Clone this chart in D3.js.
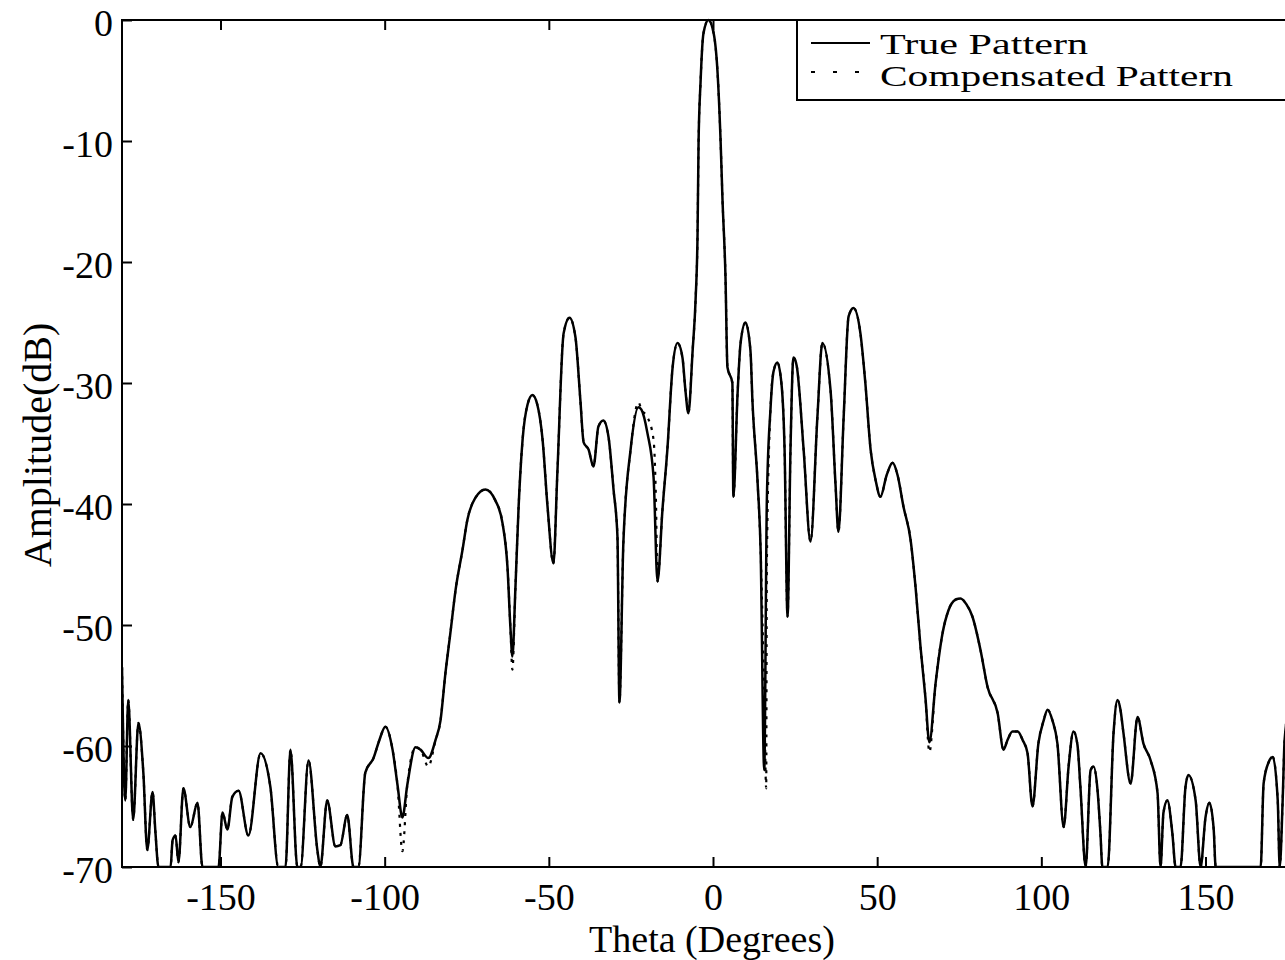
<!DOCTYPE html>
<html>
<head>
<meta charset="utf-8">
<script src="https://cdn.jsdelivr.net/npm/d3@7"></script>
<style>
  html, body { margin: 0; padding: 0; background: #fff; }
  #chart { width: 1285px; height: 960px; overflow: hidden; }
  text { font-family: "Liberation Serif", "Times New Roman", serif; fill: #000; }
</style>
</head>
<body>
<div id="chart"></div>
<script>
// Angle (degrees) of each traced point of the patterns
const theta = [
  -180, -179.0, -178.1, -176.6, -175.0, -173.5, -172.3, -170.7, -169.8, -168.9,
  -165.2, -164.6, -163.7, -162.8, -161.3, -159.2, -157.0, -155.5, -150.6, -149.4,
  -147.9, -146.4, -144.5, -141.5, -137.8, -134.8, -132.4, -130.2, -128.7, -126.6,
  -125.6, -123.2, -120.5, -119.6, -117.5, -115.0, -113.5, -111.4, -109.5, -108.0,
  -105.9, -103.4, -101.6, -99.8, -97.6, -96.1, -94.6, -93.1, -90.6, -89.1,
  -86.7, -84.5, -83.0, -81.5, -80.0, -78.4, -76.3, -74.8, -72.4, -69.3,
  -66.3, -64.1, -62.6, -61.7, -61.1, -60.2, -59.2, -58.0, -56.5, -55.0,
  -53.5, -51.9, -50.4, -48.6, -47.4, -45.5, -43.7, -41.9, -40.4, -39.4,
  -37.9, -36.4, -34.9, -33.4, -31.8, -30.3, -29.1, -28.5, -27.3, -25.1,
  -22.7, -21.8, -20.0, -18.1, -16.9, -15.4, -13.9, -12.3, -10.8, -9.3,
  -8.4, -7.5, -6.2, -5.3, -4.7, -4.4, -3.8, -2.9, -1.4, 0.2,
  1.4, 2.3, 2.9, 3.8, 4.4, 5.9, 6.2, 7.5, 8.4, 9.9,
  11.4, 12.0, 13.6, 14.5, 15.6, 16.4, 17.5, 18.4, 19.6, 20.9,
  21.8, 22.7, 23.6, 24.5, 25.5, 27.6, 29.7, 31.8, 33.3, 35.8,
  37.3, 38.2, 39.8, 41.3, 42.8, 44.9, 46.4, 48.0, 49.5, 51.0,
  52.9, 54.7, 56.2, 58.0, 60.2, 61.7, 63.2, 64.7, 65.9, 67.8,
  69.9, 71.7, 73.9, 75.4, 77.2, 79.0, 81.5, 83.6, 86.7, 88.5,
  89.7, 91.2, 92.8, 94.3, 95.8, 97.3, 99.1, 100.7, 101.9, 103.4,
  104.9, 106.8, 108.3, 109.8, 111.0, 111.9, 113.5, 115.0, 115.9, 117.1,
  118.0, 118.6, 120.2, 122.0, 123.2, 124.1, 125.0, 127.2, 129.3, 131.1,
  133.3, 135.4, 136.3, 137.2, 138.4, 139.9, 140.9, 142.4, 143.9, 144.8,
  147.0, 148.5, 150.0, 151.2, 152.5, 153.1, 166.8, 167.7, 169.3, 170.5,
  172.0, 172.6, 173.5, 174.1, 175.9, 178.0, 180
];

// True pattern amplitude (dB) at each angle above
const trueDb = [
  -53.5, -64.5, -56.2, -66.1, -58.1, -62.2, -68.6, -63.8, -67.2, -70,
  -70, -67.8, -67.4, -69.6, -63.5, -66.7, -64.7, -70, -70, -65.5,
  -66.9, -64.2, -63.7, -67.4, -60.6, -63.4, -70, -70, -60.3, -70,
  -70, -61.2, -68.6, -70, -64.5, -68.3, -68.2, -65.7, -70, -70,
  -62.2, -61.0, -59.5, -58.4, -60.3, -63.2, -65.9, -63.2, -60.1, -60.3,
  -61.0, -59.5, -57.9, -54.0, -50.7, -47.1, -43.8, -41.3, -39.5, -38.8,
  -39.7, -41.6, -45.2, -50.2, -52.6, -47.1, -40.2, -34.7, -31.8, -31.0,
  -31.8, -34.7, -40.2, -44.9, -37.4, -25.9, -24.6, -26.2, -31.4, -34.9,
  -35.5, -36.9, -33.6, -33.1, -34.5, -38.8, -42.7, -56.4, -43.2, -35.5,
  -32.0, -32.2, -34.1, -37.8, -46.4, -40.5, -35.5, -28.7, -26.7, -27.9,
  -30.6, -32.5, -27.3, -23.1, -17.6, -10.2, -5.2, -1.1, 0, -1.1,
  -4.4, -9.9, -14.9, -21.2, -28.7, -30.0, -39.4, -30.8, -26.7, -25.0,
  -27.3, -31.4, -38.3, -43.8, -62.0, -39.7, -32.2, -29.1, -28.3, -30.2,
  -35.5, -49.3, -35.5, -27.9, -28.6, -35.5, -43.1, -32.8, -26.7, -30.6,
  -38.3, -42.3, -32.8, -24.5, -23.8, -25.9, -30.0, -35.5, -38.0, -39.4,
  -37.6, -36.6, -37.6, -40.2, -43.0, -46.9, -51.8, -56.0, -59.7, -54.8,
  -50.7, -48.8, -47.9, -47.8, -48.3, -49.3, -52.1, -55.1, -57.3, -60.3,
  -59.5, -58.8, -58.8, -59.5, -60.6, -65.0, -59.8, -57.9, -57.0, -57.9,
  -59.8, -66.7, -61.7, -58.8, -59.9, -63.4, -70, -62.0, -61.7, -63.6,
  -67.2, -70, -70, -58.9, -56.2, -57.0, -58.9, -63.1, -57.6, -59.8,
  -61.2, -63.9, -70, -65.5, -64.5, -67.2, -70, -70, -63.4, -62.4,
  -64.5, -70, -65.9, -64.7, -66.9, -70, -70, -63.1, -61.3, -60.9,
  -64.5, -70, -64.5, -59.5, -56.2, -55.0, -53.5
];

// Where the compensated pattern departs from the true one: [angle, dB]
const compDiff = [
  [-94.6, -68.7], [-86.7, -61.7], [-61.1, -53.7],
  [-22.7, -31.6], [-20.0, -32.8], [-18.1, -34.7], [-17.4, -39.4],
  [15.6, -56.0], [16.2, -63.5], [16.4, -45.0],
  [65.9, -60.5]
];

const xTicks = [-150, -100, -50, 0, 50, 100, 150];
const yTicks = [0, -10, -20, -30, -40, -50, -60, -70];
const legendLabels = ["True Pattern", "Compensated Pattern"];

const W = 1285, H = 960;
const margin = { left: 122, right: 1304, top: 20, bottom: 867 };

const svg = d3.select("#chart").append("svg")
  .attr("width", W).attr("height", H)
  .attr("viewBox", `0 0 ${W} ${H}`);

const x = d3.scaleLinear().domain([-180, 180]).range([margin.left, margin.right]);
const y = d3.scaleLinear().domain([-70, 0]).range([margin.bottom, margin.top]);

const truePts = theta.map((t, i) => [t, trueDb[i]]);

// compensated = true pattern with the departures merged in
const diffMap = new Map(compDiff.map(([t, v]) => [t, v]));
const compPts = truePts
  .filter(([t]) => !diffMap.has(t))
  .concat(compDiff)
  .sort((a, b) => a[0] - b[0]);

svg.append("clipPath").attr("id", "plotClip")
  .append("rect")
  .attr("x", margin.left).attr("y", margin.top - 2)
  .attr("width", margin.right - margin.left)
  .attr("height", margin.bottom - margin.top + 2);

const line = d3.line()
  .curve(d3.curveMonotoneX)
  .x((d) => x(d[0]))
  .y((d) => y(Math.max(-70, d[1])));

const plot = svg.append("g").attr("clip-path", "url(#plotClip)");

plot.append("path")
  .datum(compPts)
  .attr("d", line)
  .attr("fill", "none")
  .attr("stroke", "#000")
  .attr("stroke-width", 2.2)
  .attr("stroke-dasharray", "3,6");

plot.append("path")
  .datum(truePts)
  .attr("d", line)
  .attr("fill", "none")
  .attr("stroke", "#000")
  .attr("stroke-width", 2.5)
  .attr("stroke-linejoin", "round");

// axes, ticks point inward
const fmt = (d) => (d < 0 ? "-" + Math.abs(d) : String(d));

svg.append("g")
  .attr("transform", `translate(0,${margin.bottom})`)
  .call(d3.axisBottom(x).tickValues(xTicks).tickSizeInner(-10).tickSizeOuter(0)
    .tickPadding(16).tickFormat(fmt));

svg.append("g")
  .attr("transform", `translate(0,${margin.top})`)
  .call(d3.axisTop(x).tickValues(xTicks).tickSizeInner(-10).tickSizeOuter(0)
    .tickFormat(""));

const yAxis = svg.append("g")
  .attr("transform", `translate(${margin.left},0)`)
  .call(d3.axisLeft(y).tickValues(yTicks).tickSizeInner(-10).tickSizeOuter(0)
    .tickPadding(9).tickFormat(fmt));

svg.append("g")
  .attr("transform", `translate(${margin.right},0)`)
  .call(d3.axisRight(y).tickValues(yTicks).tickSizeInner(-10).tickSizeOuter(0)
    .tickFormat(""));

svg.selectAll(".domain").remove();
svg.selectAll(".tick line").attr("stroke", "#000").attr("stroke-width", 2);
svg.selectAll(".tick text").style("font-size", "38px")
  .style("font-family", '"Liberation Serif", "Times New Roman", serif');
yAxis.selectAll(".tick text").attr("dy", "0.42em");

svg.append("rect")
  .attr("x", margin.left).attr("y", margin.top)
  .attr("width", margin.right - margin.left)
  .attr("height", margin.bottom - margin.top)
  .attr("fill", "none").attr("stroke", "#000").attr("stroke-width", 2);

// axis titles
svg.append("text")
  .attr("x", 712).attr("y", 952)
  .attr("text-anchor", "middle")
  .style("font-size", "38px")
  .text("Theta (Degrees)");

svg.append("text")
  .attr("transform", "translate(51,445) rotate(-90)")
  .attr("text-anchor", "middle")
  .style("font-size", "40px")
  .text("Amplitude(dB)");

// legend
const legend = svg.append("g");
legend.append("rect")
  .attr("x", 797).attr("y", margin.top)
  .attr("width", 620).attr("height", 80)
  .attr("fill", "#fff").attr("stroke", "#000").attr("stroke-width", 2);

const legendRows = [
  { label: legendLabels[0], dash: null, ly: 43, ty: 54, len: 208 },
  { label: legendLabels[1], dash: "4,18", ly: 72, ty: 86, len: 353 },
];
for (const r of legendRows) {
  legend.append("line")
    .attr("x1", 811).attr("x2", 870)
    .attr("y1", r.ly).attr("y2", r.ly)
    .attr("stroke", "#000").attr("stroke-width", 2)
    .attr("stroke-dasharray", r.dash);
  legend.append("text")
    .attr("x", 880).attr("y", r.ty)
    .attr("textLength", r.len)
    .attr("lengthAdjust", "spacingAndGlyphs")
    .style("font-size", "29px")
    .text(r.label);
}
</script>
</body>
</html>
